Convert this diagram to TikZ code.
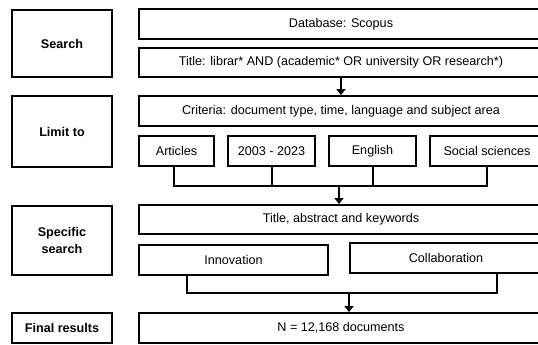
\documentclass[tikz,border=0pt]{standalone}
\usepackage{fontspec}
\setmainfont{Liberation Sans}
\usetikzlibrary{arrows.meta}
\begin{document}
\begin{tikzpicture}[x=1pt,y=-1pt,
  every node/.style={font=\fontsize{12.6}{17}\selectfont},
  box/.style={draw,line width=2pt,inner sep=0pt,align=center},
  lab/.style={box,font=\fontsize{12.6}{17}\selectfont\bfseries},
  conn/.style={line width=2pt},
  arr/.style={line width=2pt,-{Triangle[width=9pt,length=6pt]}}]
\useasboundingbox (0,0) rectangle (538,345);
\clip (0,0) rectangle (538,345);
% left labels
\node[lab,minimum width=100pt,minimum height=67pt] (search) at (62,43.5) {Search};
\node[lab,minimum width=100pt,minimum height=71pt] (limit) at (62,131.5) {Limit to};
\node[lab,minimum width=100pt,minimum height=69pt] (specific) at (62,240.5) {Specific\\search};
\node[lab,minimum width=100pt,minimum height=30pt] (final) at (62,328) {Final results};
% right boxes
\node[box,minimum width=404pt,minimum height=29.5pt] (db) at (341,24.25) {Database: Scopus};
\node[box,minimum width=404pt,minimum height=29pt] (title) at (341,62.5) {Title: librar* AND (academic* OR university OR research*)};
\node[box,minimum width=404pt,minimum height=30pt] (criteria) at (341,111) {Criteria: document type, time, language and subject area};
\node[box,minimum width=75pt,minimum height=30pt] (articles) at (176.5,151) {Articles};
\node[box,minimum width=87pt,minimum height=30pt] (years) at (271.5,151) {2003 - 2023};
\node[box,minimum width=87pt,minimum height=30pt] (english) at (372.5,151) {English};
\node[box,minimum width=114pt,minimum height=30pt] (social) at (487,151) {Social sciences};
\node[box,minimum width=404pt,minimum height=29pt] (tak) at (341,219.5) {Title, abstract and keywords};
\node[box,minimum width=189pt,minimum height=30pt] (innovation) at (233.5,260) {Innovation};
\node[box,minimum width=192pt,minimum height=30pt] (collab) at (446,258) {Collaboration};
\node[box,minimum width=404pt,minimum height=30pt] (result) at (341,328) {N = 12,168 documents};
% connectors
\draw[arr] (title.south) -- (criteria.north);
\coordinate (busA) at (174,186);
\coordinate (busB) at (487,186);
\coordinate (busC) at (339,186);
\draw[conn] (busA |- articles.south) -- (busA) -- (busB) -- (busB |- social.south);
\draw[conn] (years.south) -- (years.south |- busA);
\draw[conn] (english.south) -- (english.south |- busA);
\draw[arr] (busC) -- (busC |- tak.north);
\coordinate (busD) at (187,293);
\coordinate (busE) at (497,293);
\coordinate (busF) at (349,293);
\draw[conn] (busD |- innovation.south) -- (busD) -- (busE) -- (busE |- collab.south);
\draw[arr] (busF) -- (busF |- result.north);
\end{tikzpicture}
\end{document}
